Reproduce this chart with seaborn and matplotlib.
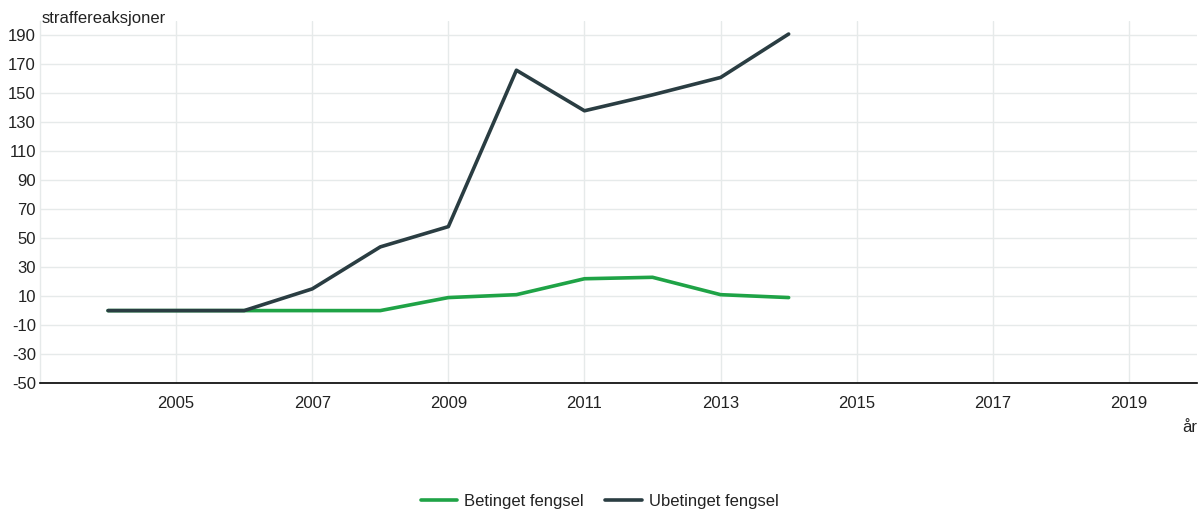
import matplotlib
matplotlib.use("Agg")
import matplotlib.pyplot as plt
import seaborn as sns
import pandas as pd

years = [2004, 2005, 2006, 2007, 2008, 2009, 2010, 2011, 2012, 2013, 2014]
betinget = [0, 0, 0, 0, 0, 9, 11, 22, 23, 11, 9]
ubetinget = [0, 0, 0, 15, 44, 58, 166, 138, 149, 161, 191]
series_names = ["Betinget fengsel", "Ubetinget fengsel"]
colors = ["#1fa346", "#2a3d42"]
yticks = list(range(-50, 191, 20))
xticks = list(range(2005, 2020, 2))

df = pd.DataFrame({
    "år": years * 2,
    "verdi": betinget + ubetinget,
    "serie": [series_names[0]] * len(years) + [series_names[1]] * len(years),
})

sns.set_theme(style="white")
plt.rcParams["font.family"] = ["Liberation Sans", "DejaVu Sans"]
plt.rcParams["axes.unicode_minus"] = False

FS = 12
TXT = "#222222"

fig = plt.figure(figsize=(11.99, 5.11), dpi=100)
ax = fig.add_axes([40 / 1199, 1 - 383 / 511, 1157 / 1199, 362 / 511])

sns.lineplot(data=df, x="år", y="verdi", hue="serie", hue_order=series_names,
             palette=colors, linewidth=2.6, ax=ax, legend=True, zorder=3)

ax.set_xlim(2003, 2020)
ax.set_ylim(-50, 200)
ax.set_xticks(xticks)
ax.set_yticks(yticks)
ax.grid(True, color="#e6eaea", linewidth=1)
ax.set_axisbelow(True)
for s in ["top", "right"]:
    ax.spines[s].set_visible(False)
ax.spines["left"].set_color("#e6eaea")
ax.spines["left"].set_linewidth(1)
ax.spines["bottom"].set_color("#000000")
ax.spines["bottom"].set_linewidth(1.2)
ax.tick_params(axis="both", length=0, labelsize=FS, colors=TXT)
ax.tick_params(axis="x", pad=9)
ax.tick_params(axis="y", pad=3)
ax.set_xlabel("")
ax.set_ylabel("")

fig.text(42 / 1199, 1 - 18 / 511, "straffereaksjoner", ha="left", va="center",
         fontsize=FS, color=TXT)
fig.text(1197 / 1199, 1 - 428 / 511, "år", ha="right", va="center",
         fontsize=FS, color=TXT)

handles, labels = ax.get_legend_handles_labels()
ax.legend(handles, labels, loc="center", bbox_to_anchor=(0.5, 1 - 501 / 511),
          bbox_transform=fig.transFigure, ncol=2, frameon=False, fontsize=FS,
          handlelength=2.2, handletextpad=0.4, columnspacing=1.3,
          labelcolor=TXT)

fig.savefig("out.png", dpi=100)
